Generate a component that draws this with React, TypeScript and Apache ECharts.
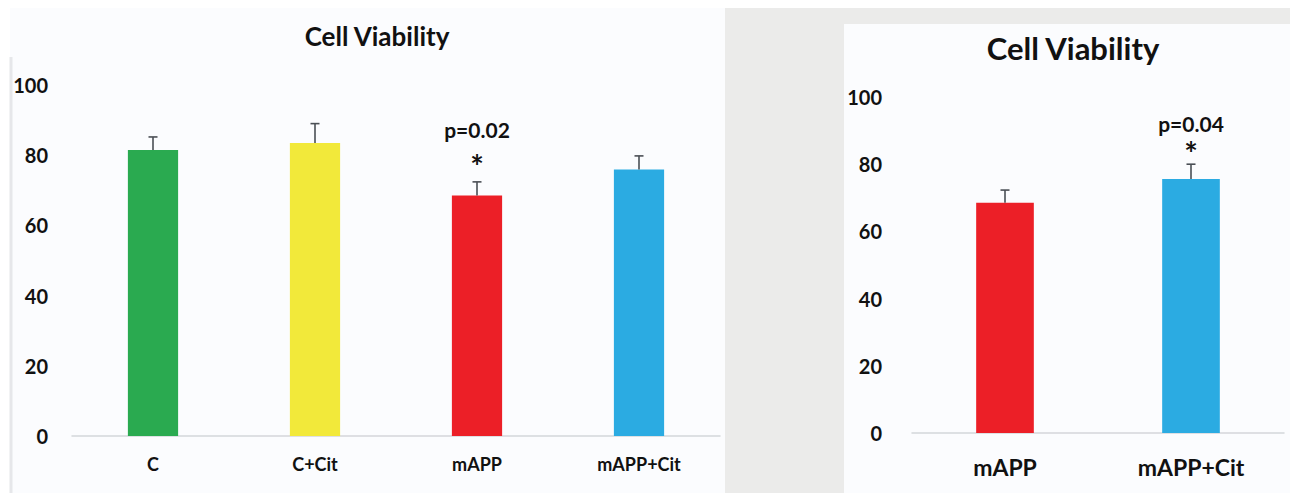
import React, { useEffect, useRef } from "react";
import * as echarts from "echarts";

const leftCategories = ["C", "C+Cit", "mAPP", "mAPP+Cit"];
const leftValues = [81.5, 83.5, 68.5, 75.9];
const leftErrors = [3.7, 5.5, 3.9, 3.9];
const leftColors = ["#2aaa50", "#f2e93a", "#ec1f27", "#2babe2"];
const leftNotes = ["", "", "p=0.02", ""];

const rightCategories = ["mAPP", "mAPP+Cit"];
const rightValues = [68.5, 75.6];
const rightErrors = [3.8, 4.4];
const rightColors = ["#ec1f27", "#2babe2"];
const rightNotes = ["", "p=0.04"];

const yTicks = [0, 20, 40, 60, 80, 100];
const FONT = "Lato, 'Open Sans', sans-serif";

function errorSeries(
  axisIndex: number,
  values: number[],
  errors: number[],
  notes: string[],
  noteSize: number,
  starSize: number,
  starGap: number,
  noteGap: number
) {
  return {
    type: "custom",
    xAxisIndex: axisIndex,
    yAxisIndex: axisIndex,
    z: 5,
    data: values.map((v, i) => [i, v, v + errors[i]]),
    renderItem: (_params: any, api: any) => {
      const i = api.value(0);
      const base = api.coord([i, api.value(1)]);
      const top = api.coord([i, api.value(2)]);
      const cap = 4.5;
      const children: any[] = [
        {
          type: "line",
          shape: { x1: base[0], y1: base[1], x2: top[0], y2: top[1] },
          style: { stroke: "#4a4f55", lineWidth: 1.6 },
        },
        {
          type: "line",
          shape: { x1: top[0] - cap, y1: top[1], x2: top[0] + cap, y2: top[1] },
          style: { stroke: "#4a4f55", lineWidth: 1.6 },
        },
      ];
      const note = notes[i];
      if (note) {
        children.push({
          type: "text",
          style: {
            text: "*",
            x: top[0],
            y: top[1] - starGap + starSize * 0.2,
            textAlign: "center",
            textVerticalAlign: "middle",
            font: `bold ${starSize}px ${FONT}`,
            fill: "#111",
          },
        });
        children.push({
          type: "text",
          style: {
            text: note,
            x: top[0],
            y: top[1] - noteGap,
            textAlign: "center",
            textVerticalAlign: "middle",
            font: `bold ${noteSize}px ${FONT}`,
            fill: "#111",
          },
        });
      }
      return { type: "group", children };
    },
  };
}

export default function App() {
  const ref = useRef<HTMLDivElement>(null);

  useEffect(() => {
    if (!ref.current) return;
    const chart = echarts.init(ref.current, null, { renderer: "svg" });

    const yAxisCommon = (fontSize: number, margin: number) => ({
      type: "value",
      min: 0,
      max: 100,
      interval: 20,
      axisLine: { show: false },
      axisTick: { show: false },
      splitLine: { show: false },
      axisLabel: {
        fontSize,
        fontWeight: "bold",
        fontFamily: FONT,
        color: "#111",
        margin,
        formatter: (v: number) => (yTicks.includes(v) ? String(v) : ""),
      },
    });

    const xAxisCommon = (data: string[], gridIndex: number, fontSize: number, margin: number) => ({
      type: "category",
      gridIndex,
      data,
      axisLine: { lineStyle: { color: "#d4d6da", width: 1.5 } },
      axisTick: { show: false },
      axisLabel: {
        fontSize,
        fontWeight: "bold",
        fontFamily: FONT,
        color: "#111",
        margin,
      },
    });

    chart.setOption({
      animation: false,
      backgroundColor: "#ffffff",
      graphic: [
        {
          type: "rect",
          z: -10,
          silent: true,
          shape: { x: 10, y: 8, width: 715, height: 485 },
          style: { fill: "#fbfcfe" },
        },
        {
          type: "line",
          z: -9,
          silent: true,
          shape: { x1: 11, y1: 57, x2: 11, y2: 493 },
          style: { stroke: "#e6e7ea", lineWidth: 3 },
        },
        {
          type: "rect",
          z: -10,
          silent: true,
          shape: { x: 725, y: 8, width: 565, height: 485 },
          style: { fill: "#ebebea" },
        },
        {
          type: "rect",
          z: -9,
          silent: true,
          shape: { x: 844, y: 24, width: 446, height: 469 },
          style: { fill: "#fbfcfe" },
        },
      ],
      title: [
        {
          text: "Cell Viability",
          left: 372,
          top: 18,
          textAlign: "center",
          textStyle: { fontSize: 26, fontWeight: "bold", fontFamily: FONT, color: "#111" },
        },
        {
          text: "Cell Viability",
          left: 1068,
          top: 27,
          textAlign: "center",
          textStyle: { fontSize: 31, fontWeight: "bold", fontFamily: FONT, color: "#111" },
        },
      ],
      grid: [
        { left: 72, top: 85, width: 648, height: 351 },
        { left: 912, top: 97, width: 372, height: 336 },
      ],
      xAxis: [
        xAxisCommon(leftCategories, 0, 18, 19),
        xAxisCommon(rightCategories, 1, 23, 22),
      ],
      yAxis: [
        { ...yAxisCommon(20, 24), gridIndex: 0 },
        { ...yAxisCommon(20, 30), gridIndex: 1 },
      ],
      series: [
        {
          type: "bar",
          xAxisIndex: 0,
          yAxisIndex: 0,
          barWidth: "31%",
          data: leftValues.map((v, i) => ({ value: v, itemStyle: { color: leftColors[i] } })),
        },
        {
          type: "bar",
          xAxisIndex: 1,
          yAxisIndex: 1,
          barWidth: "31%",
          data: rightValues.map((v, i) => ({ value: v, itemStyle: { color: rightColors[i] } })),
        },
        errorSeries(0, leftValues, leftErrors, leftNotes, 21, 32, 22, 52),
        errorSeries(1, rightValues, rightErrors, rightNotes, 21, 32, 17, 41),
      ],
    });

    return () => chart.dispose();
  }, []);

  return (
    <div
      ref={ref}
      style={{ position: "absolute", left: 0, top: 0, width: 1290, height: 493 }}
    />
  );
}
